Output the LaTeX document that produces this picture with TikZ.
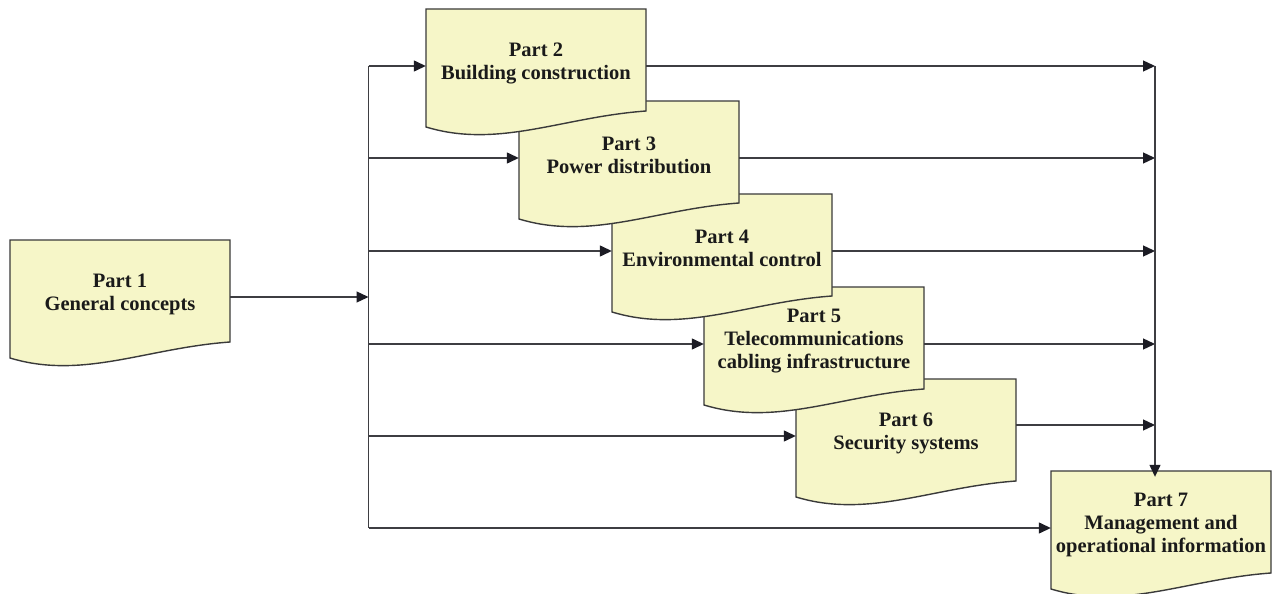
\documentclass[tikz,border=0pt]{standalone}
\usepackage{fontspec}
\setmainfont{Liberation Serif}
\usetikzlibrary{arrows.meta,calc}
\definecolor{docfill}{RGB}{246,246,200}
\definecolor{docline}{RGB}{58,58,58}
\definecolor{txt}{RGB}{26,26,26}
\definecolor{wire}{RGB}{62,62,66}
\definecolor{tipc}{RGB}{28,28,36}
\tikzset{
  docshape/.style={fill=docfill,draw=docline,line width=1.4pt,line join=miter},
  doclabel/.style={minimum width=220pt,minimum height=96pt,inner sep=0pt,align=center,
    text=txt,font=\bfseries\fontsize{20.5}{23}\selectfont},
  wireline/.style={draw=wire,line width=1.3pt},
  arr/.style={wireline,-{Triangle[length=12pt,width=11pt,fill=tipc,color=tipc]}}
}
\newcommand\mydoc[4]{%
  \filldraw[docshape] (#2,#3) -- ({#2+220},#3) -- ({#2+220},{#3+102})
    .. controls ({#2+136.4},{#3+108}) and ({#2+72.6},{#3+140}) .. (#2,{#3+118}) -- cycle;
  \node[doclabel] (#1) at ({#2+110},{#3+54}) {#4};}
\begin{document}
\begin{tikzpicture}[x=1pt,y=-1pt]
\clip (0,0) rectangle (1272,594);
\fill[white] (0,0) rectangle (1272,594);
% boxes, back to front
\mydoc{p7}{1051}{471}{Part 7\\Management and\\operational information}
\mydoc{p1}{10}{240}{Part 1\\General concepts}
\mydoc{p6}{796}{379}{Part 6\\Security systems}
\mydoc{p5}{704}{287}{Part 5\\Telecommunications\\cabling infrastructure}
\mydoc{p4}{612}{194}{Part 4\\Environmental control}
\mydoc{p3}{519}{101}{Part 3\\Power distribution}
\mydoc{p2}{426}{9}{Part 2\\Building construction}
% connection points
\coordinate (p1out) at ([yshift=-3pt]p1.east);
\foreach \n in {2,...,7}{\coordinate (p\n in) at ([yshift=-3pt]p\n.west);}
\foreach \n in {2,...,5}{\coordinate (p\n out) at ([yshift=-3pt]p\n.east);}
\coordinate (p6out) at ([yshift=8pt]p6.east);
\coordinate (busL) at (368.5,297);
\coordinate (busR) at (1155,67);
% left bus
\draw[arr] (p1out) -- (busL |- p1out);
\draw[wireline] (busL |- p2in) -- (busL |- p7in);
\foreach \n in {2,...,7}{\draw[arr] (busL |- p\n in) -- (p\n in);}
% right bus
\foreach \n in {2,...,6}{\draw[arr] (p\n out) -- (busR |- p\n out);}
\draw[arr] (busR |- p2out) -- (busR |- p7.north);
\end{tikzpicture}
\end{document}
